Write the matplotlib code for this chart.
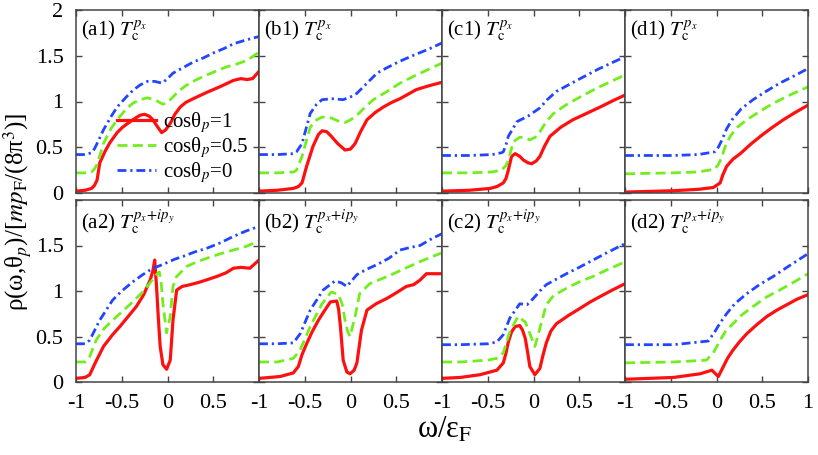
import matplotlib
matplotlib.use("Agg")
import matplotlib.pyplot as plt
from matplotlib.font_manager import FontProperties

SERIF = "Liberation Serif"
plt.rcParams["font.family"] = SERIF
plt.rcParams["mathtext.fontset"] = "stix"

# ---- data (omega/eps_F, rho) ----
# (a1)
a1_red_w = [-1, -0.9, -0.83, -0.8, -0.77, -0.74, -0.68, -0.63, -0.55, -0.49, -0.38, -0.3, -0.25, -0.2, -0.16, -0.1, -0.064, -0.02, 0.03, 0.08, 0.14, 0.2, 0.28, 0.43, 0.57, 0.72, 0.8, 0.87, 0.93, 1.0]
a1_red_rho = [0.02, 0.03, 0.05, 0.08, 0.14, 0.33, 0.46, 0.55, 0.66, 0.72, 0.80, 0.85, 0.86, 0.84, 0.80, 0.71, 0.66, 0.69, 0.76, 0.86, 0.94, 0.99, 1.03, 1.10, 1.16, 1.23, 1.25, 1.24, 1.25, 1.33]
a1_grn_w = [-1, -0.9, -0.83, -0.8, -0.77, -0.7, -0.62, -0.55, -0.45, -0.38, -0.3, -0.22, -0.14, -0.05, 0.0, 0.06, 0.13, 0.21, 0.32, 0.43, 0.55, 0.65, 0.76, 0.87, 1.0]
a1_grn_rho = [0.22, 0.22, 0.23, 0.26, 0.31, 0.54, 0.70, 0.80, 0.92, 0.98, 1.02, 1.04, 1.02, 0.97, 0.99, 1.05, 1.12, 1.18, 1.24, 1.29, 1.34, 1.38, 1.41, 1.45, 1.54]
a1_blu_w = [-1, -0.9, -0.83, -0.8, -0.77, -0.7, -0.62, -0.55, -0.45, -0.38, -0.3, -0.22, -0.14, -0.06, 0.0, 0.06, 0.17, 0.28, 0.4, 0.5, 0.62, 0.72, 0.85, 1.0]
a1_blu_rho = [0.42, 0.42, 0.44, 0.48, 0.54, 0.69, 0.83, 0.94, 1.05, 1.12, 1.18, 1.22, 1.22, 1.20, 1.25, 1.31, 1.37, 1.43, 1.48, 1.53, 1.58, 1.63, 1.67, 1.71]

# (b1)
b1_red_w = [-1, -0.8, -0.625, -0.57, -0.53, -0.48, -0.41, -0.35, -0.31, -0.26, -0.21, -0.14, -0.06, 0.0, 0.05, 0.11, 0.18, 0.27, 0.36, 0.45, 0.54, 0.63, 0.72, 0.85, 1.0]
b1_red_rho = [0.02, 0.03, 0.05, 0.07, 0.11, 0.29, 0.51, 0.64, 0.68, 0.67, 0.62, 0.54, 0.47, 0.48, 0.54, 0.67, 0.80, 0.88, 0.94, 0.99, 1.03, 1.08, 1.13, 1.17, 1.21]
b1_grn_w = [-1, -0.8, -0.62, -0.59, -0.53, -0.44, -0.37, -0.31, -0.21, -0.12, -0.06, 0.0, 0.07, 0.15, 0.25, 0.4, 0.54, 0.7, 0.85, 1.0]
b1_grn_rho = [0.22, 0.22, 0.23, 0.25, 0.40, 0.72, 0.80, 0.83, 0.82, 0.78, 0.77, 0.80, 0.85, 0.93, 1.02, 1.11, 1.20, 1.28, 1.35, 1.42]
b1_blu_w = [-1, -0.8, -0.62, -0.59, -0.53, -0.44, -0.37, -0.31, -0.2, -0.08, 0.0, 0.07, 0.18, 0.29, 0.4, 0.54, 0.7, 0.85, 1.0]
b1_blu_rho = [0.42, 0.42, 0.43, 0.45, 0.54, 0.87, 0.97, 1.02, 1.03, 1.02, 1.05, 1.09, 1.20, 1.31, 1.37, 1.44, 1.51, 1.57, 1.64]

# (c1)
c1_red_w = [-1, -0.7, -0.475, -0.4, -0.33, -0.3, -0.275, -0.24, -0.2, -0.15, -0.11, -0.06, -0.02, 0.03, 0.07, 0.12, 0.18, 0.3, 0.43, 0.58, 0.73, 0.87, 1.0]
c1_red_rho = [0.02, 0.03, 0.05, 0.07, 0.11, 0.16, 0.25, 0.40, 0.43, 0.40, 0.36, 0.33, 0.32, 0.35, 0.40, 0.51, 0.62, 0.72, 0.80, 0.87, 0.94, 1.01, 1.07]
c1_grn_w = [-1, -0.7, -0.45, -0.35, -0.3, -0.275, -0.22, -0.15, -0.08, -0.04, 0.02, 0.07, 0.14, 0.22, 0.35, 0.51, 0.7, 0.85, 1.0]
c1_grn_rho = [0.22, 0.22, 0.23, 0.25, 0.30, 0.36, 0.56, 0.61, 0.60, 0.58, 0.61, 0.67, 0.78, 0.87, 0.96, 1.05, 1.15, 1.22, 1.29]
c1_blu_w = [-1, -0.7, -0.45, -0.35, -0.33, -0.3, -0.275, -0.18, -0.06, 0.07, 0.15, 0.25, 0.38, 0.51, 0.7, 0.85, 1.0]
c1_blu_rho = [0.41, 0.41, 0.42, 0.44, 0.45, 0.53, 0.62, 0.78, 0.84, 0.93, 1.02, 1.11, 1.18, 1.25, 1.35, 1.42, 1.49]

# (d1)
d1_red_w = [-1, -0.47, -0.2, -0.035, 0.04, 0.07, 0.11, 0.18, 0.26, 0.37, 0.48, 0.6, 0.73, 0.86, 1.0]
d1_red_rho = [0.01, 0.025, 0.04, 0.06, 0.11, 0.20, 0.29, 0.37, 0.43, 0.53, 0.62, 0.71, 0.80, 0.88, 0.96]
d1_grn_w = [-1, -0.47, -0.2, -0.02, 0.02, 0.06, 0.1, 0.15, 0.23, 0.33, 0.47, 0.62, 0.8, 1.0]
d1_grn_rho = [0.21, 0.22, 0.23, 0.26, 0.31, 0.40, 0.52, 0.62, 0.72, 0.80, 0.89, 0.98, 1.07, 1.16]
d1_blu_w = [-1, -0.47, -0.2, -0.02, 0.02, 0.06, 0.11, 0.17, 0.27, 0.4, 0.54, 0.69, 0.85, 1.0]
d1_blu_rho = [0.41, 0.41, 0.42, 0.45, 0.50, 0.58, 0.70, 0.80, 0.92, 1.02, 1.11, 1.20, 1.28, 1.36]

# (a2)
a2_red_w = [-1, -0.9, -0.85, -0.79, -0.70, -0.6, -0.52, -0.43, -0.34, -0.26, -0.19, -0.16, -0.14, -0.12, -0.10, -0.08, -0.05, -0.01, 0.03, 0.06, 0.10, 0.16, 0.25, 0.36, 0.54, 0.64, 0.72, 0.8, 0.9, 1.0]
a2_red_rho = [0.04, 0.05, 0.08, 0.21, 0.39, 0.52, 0.61, 0.72, 0.83, 0.96, 1.12, 1.22, 1.34, 1.05, 0.70, 0.39, 0.19, 0.14, 0.24, 0.68, 1.01, 1.05, 1.07, 1.10, 1.16, 1.20, 1.25, 1.26, 1.25, 1.34]
a2_grn_w = [-1, -0.9, -0.85, -0.78, -0.7, -0.63, -0.5, -0.38, -0.28, -0.19, -0.12, -0.09, -0.07, -0.05, -0.01, 0.03, 0.06, 0.1, 0.21, 0.32, 0.43, 0.58, 0.72, 0.86, 1.0]
a2_grn_rho = [0.22, 0.22, 0.28, 0.46, 0.58, 0.65, 0.77, 0.88, 0.98, 1.09, 1.18, 1.21, 1.10, 0.86, 0.54, 0.72, 1.05, 1.16, 1.27, 1.32, 1.36, 1.41, 1.45, 1.49, 1.55]
a2_blu_w = [-1, -0.9, -0.85, -0.8, -0.74, -0.6, -0.5, -0.38, -0.27, -0.16, -0.08, -0.01, 0.08, 0.17, 0.3, 0.43, 0.58, 0.72, 0.86, 1.0]
a2_blu_rho = [0.42, 0.42, 0.46, 0.56, 0.68, 0.90, 1.00, 1.10, 1.18, 1.25, 1.28, 1.31, 1.35, 1.38, 1.43, 1.47, 1.53, 1.60, 1.66, 1.71]

# (b2)
b2_red_w = [-1, -0.77, -0.625, -0.57, -0.53, -0.48, -0.42, -0.35, -0.28, -0.22, -0.15, -0.13, -0.11, -0.08, -0.04, -0.005, 0.04, 0.07, 0.12, 0.18, 0.28, 0.4, 0.5, 0.61, 0.69, 0.76, 0.83, 1.0]
b2_red_rho = [0.04, 0.06, 0.10, 0.17, 0.30, 0.42, 0.55, 0.68, 0.79, 0.88, 0.89, 0.80, 0.61, 0.24, 0.11, 0.09, 0.13, 0.21, 0.57, 0.79, 0.86, 0.92, 0.98, 1.05, 1.07, 1.12, 1.19, 1.19]
b2_grn_w = [-1, -0.8, -0.625, -0.55, -0.44, -0.31, -0.21, -0.13, -0.09, -0.06, -0.03, -0.005, 0.05, 0.10, 0.21, 0.33, 0.47, 0.62, 0.8, 1.0]
b2_grn_rho = [0.22, 0.22, 0.26, 0.35, 0.61, 0.86, 0.99, 0.96, 0.85, 0.68, 0.55, 0.50, 0.72, 0.97, 1.08, 1.13, 1.19, 1.26, 1.34, 1.42]
b2_blu_w = [-1, -0.8, -0.625, -0.55, -0.44, -0.3, -0.17, -0.1, -0.04, 0.07, 0.18, 0.29, 0.42, 0.54, 0.66, 0.76, 0.88, 1.0]
b2_blu_rho = [0.42, 0.42, 0.43, 0.53, 0.79, 1.01, 1.11, 1.09, 1.05, 1.18, 1.24, 1.29, 1.36, 1.45, 1.48, 1.50, 1.57, 1.63]

# (c2)
c2_red_w = [-1, -0.8, -0.585, -0.4, -0.33, -0.3, -0.275, -0.24, -0.2, -0.15, -0.12, -0.09, -0.06, -0.04, 0.015, 0.07, 0.1, 0.14, 0.19, 0.25, 0.38, 0.51, 0.62, 0.73, 0.86, 1.0]
c2_red_rho = [0.04, 0.05, 0.08, 0.13, 0.21, 0.32, 0.44, 0.55, 0.61, 0.62, 0.57, 0.48, 0.30, 0.17, 0.08, 0.15, 0.28, 0.43, 0.56, 0.64, 0.73, 0.81, 0.88, 0.94, 1.01, 1.08]
c2_grn_w = [-1, -0.8, -0.5, -0.4, -0.33, -0.26, -0.17, -0.09, -0.05, -0.02, 0.015, 0.07, 0.14, 0.22, 0.36, 0.5, 0.65, 0.82, 1.0]
c2_grn_rho = [0.22, 0.22, 0.24, 0.26, 0.32, 0.55, 0.72, 0.66, 0.56, 0.48, 0.39, 0.59, 0.85, 0.95, 1.03, 1.10, 1.16, 1.24, 1.32]
c2_blu_w = [-1, -0.8, -0.5, -0.4, -0.33, -0.26, -0.15, -0.07, 0.0, 0.07, 0.14, 0.25, 0.36, 0.5, 0.65, 0.82, 1.0]
c2_blu_rho = [0.41, 0.41, 0.42, 0.44, 0.52, 0.70, 0.86, 0.85, 0.92, 1.00, 1.07, 1.13, 1.19, 1.26, 1.34, 1.43, 1.52]

# (d2)
d2_red_w = [-1, -0.47, -0.18, -0.05, 0.02, 0.075, 0.12, 0.18, 0.25, 0.33, 0.44, 0.55, 0.66, 0.77, 0.88, 1.0]
d2_red_rho = [0.03, 0.05, 0.09, 0.13, 0.06, 0.17, 0.26, 0.35, 0.44, 0.53, 0.63, 0.72, 0.79, 0.85, 0.91, 0.96]
d2_grn_w = [-1, -0.47, -0.11, -0.035, 0.04, 0.1, 0.18, 0.28, 0.4, 0.54, 0.69, 0.85, 1.0]
d2_grn_rho = [0.21, 0.22, 0.24, 0.32, 0.46, 0.56, 0.64, 0.74, 0.83, 0.93, 1.01, 1.10, 1.19]
d2_blu_w = [-1, -0.47, -0.09, -0.02, 0.04, 0.11, 0.2, 0.33, 0.47, 0.62, 0.8, 1.0]
d2_blu_rho = [0.41, 0.41, 0.45, 0.55, 0.65, 0.75, 0.86, 0.97, 1.07, 1.16, 1.28, 1.41]

panel_names = ["a1", "b1", "c1", "d1", "a2", "b2", "c2", "d2"]
legend_labels = ["cosθ$_p$=1", "cosθ$_p$=0.5", "cosθ$_p$=0"]
x_ticks = [-1, -0.5, 0, 0.5, 1]
y_ticks = [0, 0.5, 1, 1.5, 2]

curves = {
    "a1": [(a1_red_w, a1_red_rho), (a1_grn_w, a1_grn_rho), (a1_blu_w, a1_blu_rho)],
    "b1": [(b1_red_w, b1_red_rho), (b1_grn_w, b1_grn_rho), (b1_blu_w, b1_blu_rho)],
    "c1": [(c1_red_w, c1_red_rho), (c1_grn_w, c1_grn_rho), (c1_blu_w, c1_blu_rho)],
    "d1": [(d1_red_w, d1_red_rho), (d1_grn_w, d1_grn_rho), (d1_blu_w, d1_blu_rho)],
    "a2": [(a2_red_w, a2_red_rho), (a2_grn_w, a2_grn_rho), (a2_blu_w, a2_blu_rho)],
    "b2": [(b2_red_w, b2_red_rho), (b2_grn_w, b2_grn_rho), (b2_blu_w, b2_blu_rho)],
    "c2": [(c2_red_w, c2_red_rho), (c2_grn_w, c2_grn_rho), (c2_blu_w, c2_blu_rho)],
    "d2": [(d2_red_w, d2_red_rho), (d2_grn_w, d2_grn_rho), (d2_blu_w, d2_blu_rho)],
}

styles = [
    dict(color="#ff1010", lw=2.3, ls="-"),
    dict(color="#72ee1e", lw=2.0, dashes=[3.6, 1.9]),
    dict(color="#2245ff", lw=2.0, dashes=[3.2, 1.4, 0.8, 1.4]),
]


def fp(size):
    return FontProperties(family=SERIF, size=size, math_fontfamily="stix")


W, H = 818, 455
fig = plt.figure(figsize=(W / 100, H / 100), dpi=100)

lefts = [76, 259, 442, 625]
tops = [10, 200]
heights = [183, 182]

for k, name in enumerate(panel_names):
    row, col = divmod(k, 4)
    l = lefts[col] / W
    b = 1 - (tops[row] + heights[row]) / H
    ax = fig.add_axes([l, b, 183 / W, heights[row] / H])

    for (w, rho), st in zip(curves[name], styles):
        ax.plot(w, rho, solid_joinstyle="round", dash_capstyle="butt", **st)

    ax.set_xlim(-1, 1)
    ax.set_ylim(0, 2)
    ax.set_xticks(x_ticks)
    ax.set_yticks(y_ticks)
    ax.tick_params(direction="in", top=True, right=True, length=4, width=1,
                   color="#444444", pad=9)
    for sp in ax.spines.values():
        sp.set_color("#444444")
        sp.set_linewidth(1.1)

    if row == 1:
        xl = ["-1", "-0.5", "0", "0.5", "1" if col == 3 else ""]
    else:
        xl = [""] * 5
    ax.set_xticklabels(xl, fontproperties=fp(16))
    if col == 0:
        yl = ["0", "0.5", "1", "1.5", "2" if row == 0 else ""]
    else:
        yl = [""] * 5
    ax.set_yticklabels(yl, fontproperties=fp(16))

    sup = r"p_x" if row == 0 else r"p_x\!+\!ip_y"
    ax.text(0.03, 0.955, "(" + name + ") " + r"$T_{\mathrm{c}}^{" + sup + "}$",
            transform=ax.transAxes, ha="left", va="top", fontproperties=fp(15))

    if name == "a1":
        ax.legend(ax.get_lines(), legend_labels, loc="lower right",
                  bbox_to_anchor=(1.02, -0.035), frameon=False, prop=fp(15),
                  handlelength=1.9, handletextpad=0.3, labelspacing=0.0,
                  borderpad=0.2)

fig.text(18 / W, 1 - 212 / H, r"ρ(ω,θ$_p$)/[$mp_{\mathrm{F}}$/(8π$^3$)]",
         rotation=90, ha="center", va="center", fontproperties=fp(18))
fig.text(445 / W, 1 - 430 / H, r"ω/ε$_{\mathrm{F}}$", ha="center", va="center",
         fontproperties=fp(22))

fig.savefig("out.png", dpi=100)
